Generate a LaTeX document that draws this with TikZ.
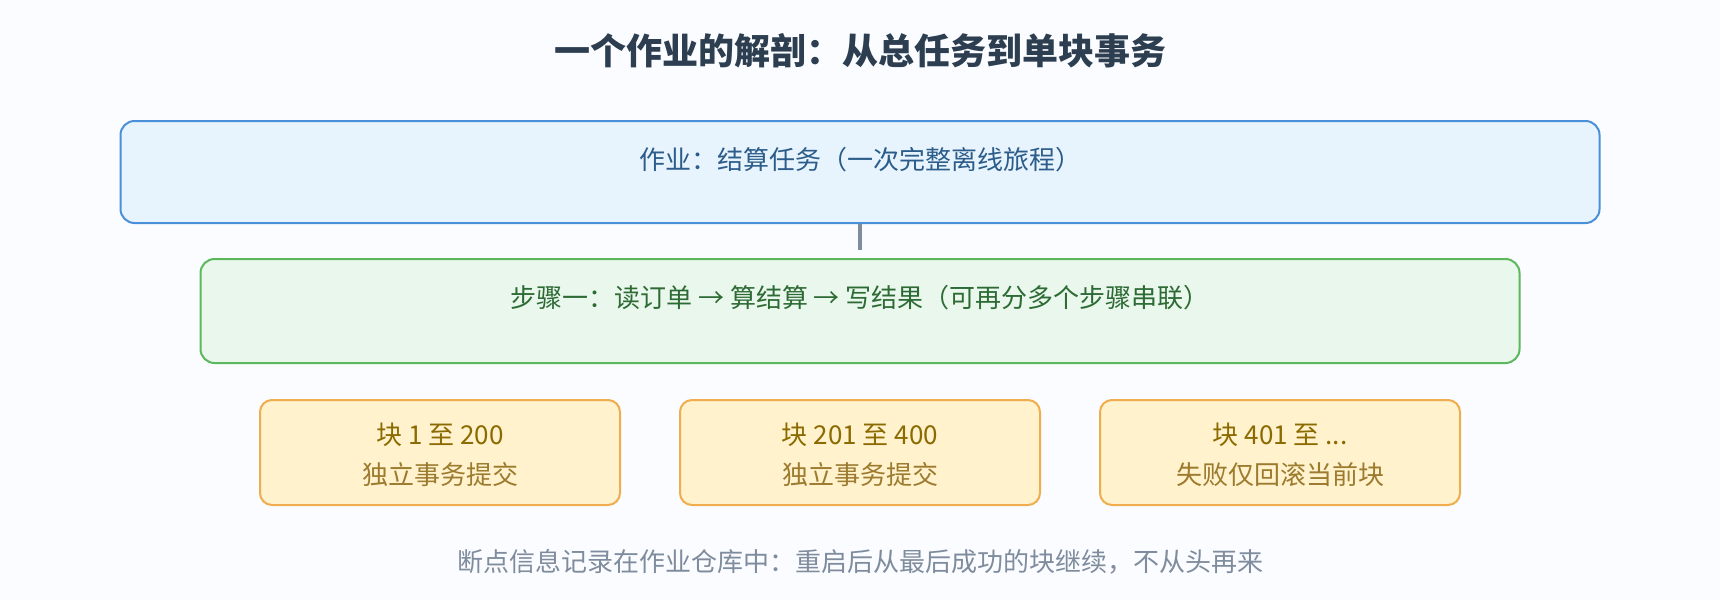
\documentclass[tikz,border=0pt]{standalone}
\usepackage{fontspec}
\setmainfont{Noto Sans CJK SC}
\definecolor{bgc}{HTML}{FAFCFF}
\definecolor{titlec}{HTML}{2C3E50}
\definecolor{bluefill}{HTML}{E8F4FD}
\definecolor{bluedraw}{HTML}{4A90D9}
\definecolor{bluetext}{HTML}{2B5C8A}
\definecolor{greenfill}{HTML}{EAF7EC}
\definecolor{greendraw}{HTML}{5CB85C}
\definecolor{greentext}{HTML}{2D6B35}
\definecolor{orangefill}{HTML}{FFF2CC}
\definecolor{orangedraw}{HTML}{F0AD4E}
\definecolor{orangetexta}{HTML}{8B6A00}
\definecolor{orangetextb}{HTML}{9C7A2E}
\definecolor{grayc}{HTML}{7F8C9D}
\tikzset{
  panel/.style={draw, line width=2pt, rounded corners=14pt, inner sep=0pt},
  jobbox/.style={panel, fill=bluefill, draw=bluedraw, minimum width=1479pt, minimum height=102pt},
  stepbox/.style={panel, fill=greenfill, draw=greendraw, minimum width=1319pt, minimum height=104pt},
  chunkbox/.style={panel, rounded corners=12pt, fill=orangefill, draw=orangedraw, minimum width=360pt, minimum height=105pt},
  lbl/.style={inner sep=0pt, font=\fontsize{26pt}{30pt}\selectfont},
  conn/.style={draw=grayc, line width=4pt}
}
\begin{document}
\begin{tikzpicture}[x=1pt,y=-1pt]
\fill[bgc] (0,0) rectangle (1720,600);
\useasboundingbox (0,0) rectangle (1720,600);
\node[inner sep=0pt, text=titlec, font=\fontsize{36pt}{42pt}\selectfont\bfseries] (title) at (860,51) {一个作业的解剖：从总任务到单块事务};
\node[jobbox] (job) at (860,172) {};
\node[lbl, text=bluetext] (jobl) at (860,160) {作业：结算任务（一次完整离线旅程）};
\node[stepbox] (step) at (860,311) {};
\node[lbl, text=greentext] (stepl) at (860,298) {步骤一：读订单 → 算结算 → 写结果（可再分多个步骤串联）};
\coordinate (connend) at (860,250);
\draw[conn] (job.south) -- (connend);
\node[chunkbox] (c1) at (440,452.5) {};
\node[chunkbox] (c2) at (860,452.5) {};
\node[chunkbox] (c3) at (1280,452.5) {};
\node[lbl, text=orangetexta] (c1a) at (440,435) {块 1 至 200};
\node[lbl, text=orangetextb] (c1b) at (440,475) {独立事务提交};
\node[lbl, text=orangetexta] (c2a) at (860,435) {块 201 至 400};
\node[lbl, text=orangetextb] (c2b) at (860,475) {独立事务提交};
\node[lbl, text=orangetexta] (c3a) at (1280,435) {块 401 至 ...};
\node[lbl, text=orangetextb] (c3b) at (1280,475) {失败仅回滚当前块};
\node[lbl, text=grayc] (note) at (860,562) {断点信息记录在作业仓库中：重启后从最后成功的块继续，不从头再来};
\end{tikzpicture}
\end{document}
